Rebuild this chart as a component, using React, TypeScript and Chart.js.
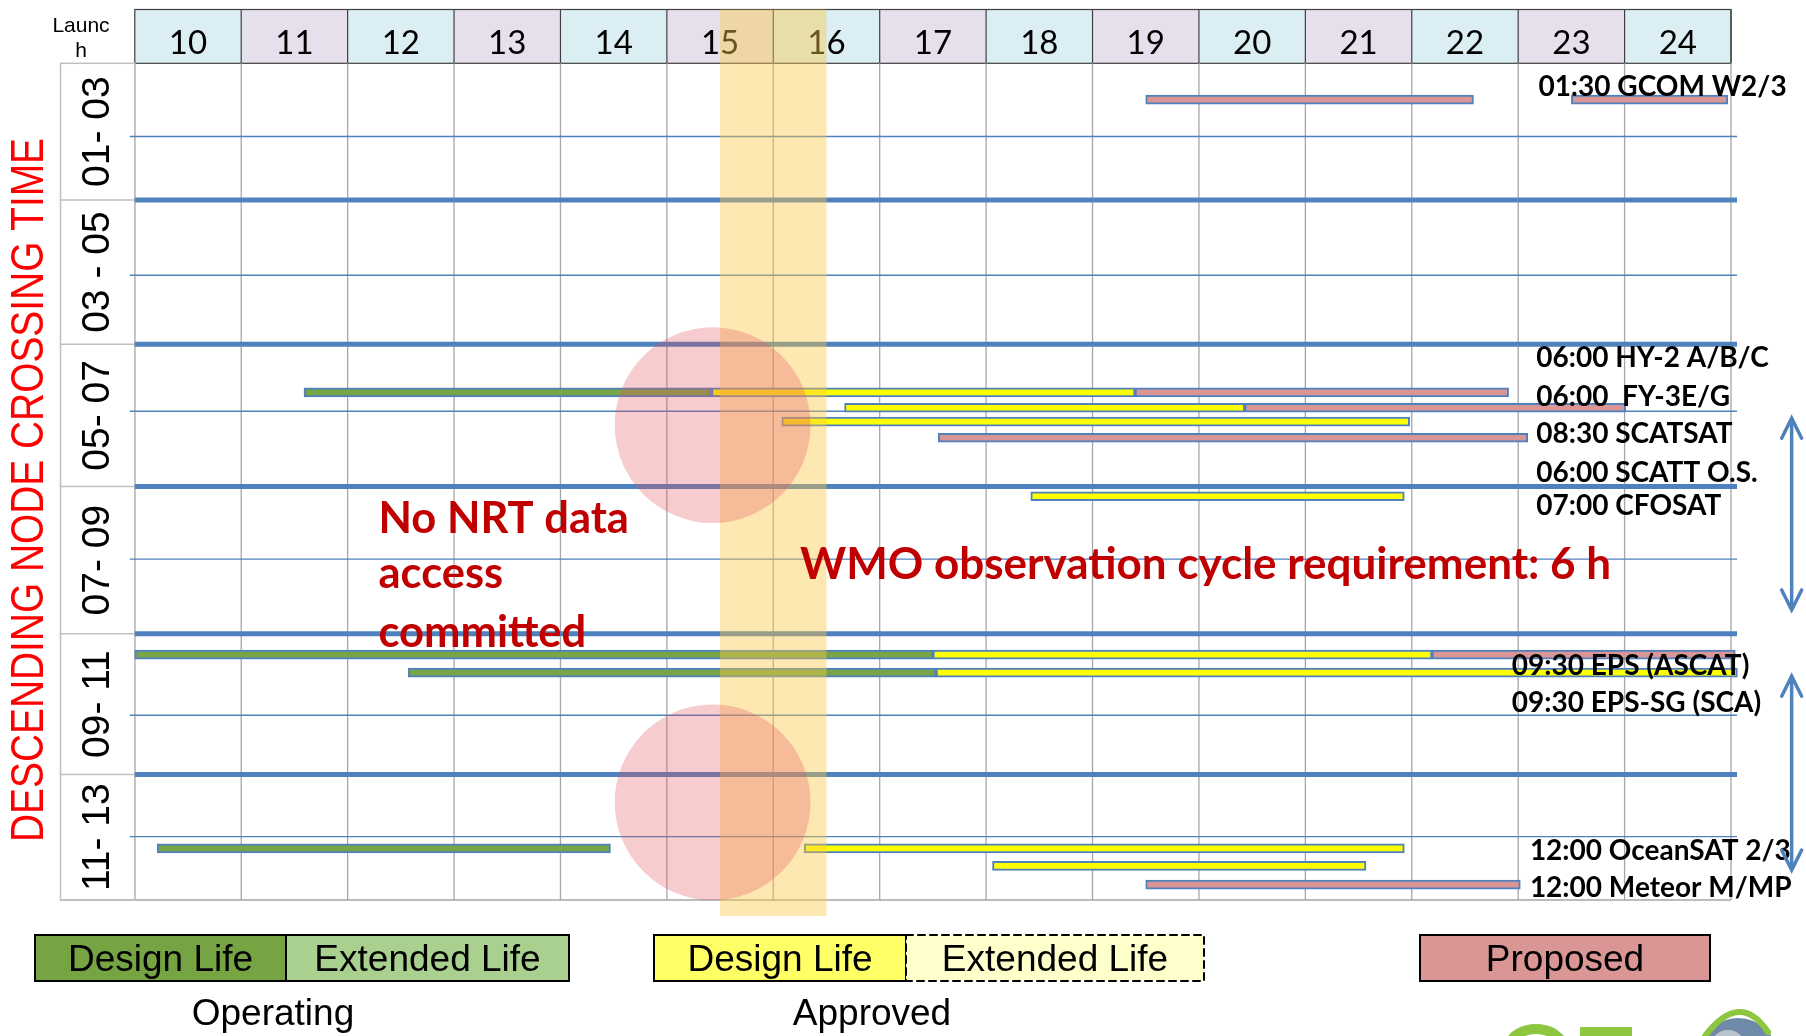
import React, { useEffect, useRef } from 'react';
import { Chart, registerables } from 'chart.js';

Chart.register(...registerables);

// ---------------- data ----------------
const launchYears = [10, 11, 12, 13, 14, 15, 16, 17, 18, 19, 20, 21, 22, 23, 24];
const timeGroups = ['01- 03', '03 - 05', '05- 07', '07- 09', '09- 11', '11- 13'];
const groupEdges = [1, 2.96, 5.03, 7.07, 9.18, 11.2, 13];
const halfLines = [2.05, 4.04, 5.99, 8.11, 10.35, 12.09];

// Operating – design life (green)
const operatingTimes = [5.72, 9.48, 9.74, 12.26];
const operatingStart = [11.09, 9.5, 12.07, 9.71];
const operatingEnd = [14.92, 17.0, 17.03, 13.97];

// Approved – design life (yellow)
const approvedTimes = [5.72, 5.94, 6.14, 7.21, 9.48, 9.74, 12.26, 12.51];
const approvedStart = [14.92, 16.17, 15.58, 17.92, 17.0, 17.03, 15.79, 17.56];
const approvedEnd = [18.9, 19.93, 21.48, 21.43, 21.69, 24.56, 21.43, 21.07];

// Proposed (pink)
const proposedTimes = [1.52, 1.52, 5.72, 5.94, 6.37, 9.48, 12.78];
const proposedStart = [19.0, 23.0, 18.9, 19.93, 17.05, 21.69, 19.0];
const proposedEnd = [22.08, 24.47, 22.41, 23.51, 22.59, 24.54, 22.52];

const satelliteLabels = [
  '01:30 GCOM W2/3',
  '06:00 HY-2 A/B/C',
  '06:00  FY-3E/G',
  '08:30 SCATSAT',
  '06:00 SCATT O.S.',
  '07:00 CFOSAT',
  '09:30 EPS (ASCAT)',
  '09:30 EPS-SG (SCA)',
  '12:00 OceanSAT 2/3',
  '12:00 Meteor M/MP',
];
const satelliteLabelTimes = [1.32, 5.21, 5.77, 6.3, 6.86, 7.33, 9.63, 10.16, 12.28, 12.81];
const satelliteLabelYears = [22.69, 22.67, 22.67, 22.67, 22.67, 22.67, 22.44, 22.44, 22.61, 22.61];

const yTitle = 'DESCENDING NODE CROSSING TIME';
const noNrtLines = ['No NRT data', 'access', 'committed'];
const wmoText = 'WMO observation cycle requirement: 6 h';
const legendLabels = ['Design Life', 'Extended Life', 'Design Life', 'Extended Life', 'Proposed'];
const legendGroups = ['Operating', 'Approved'];

// ---------------- styles ----------------
const BLUE = '#4F81BD';
const GREEN = '#77A548';
const YELLOW = '#FFFF00';
const PINK = '#D99694';
const DARKRED = '#C00000';
const ARIAL = '"Liberation Sans", Arial, sans-serif';
const LATO = 'Lato, "Open Sans", sans-serif';

const decorPlugin: any = {
  id: 'decor',
  beforeDatasetsDraw(chart: any) {
    const { ctx, chartArea: ca, scales } = chart;
    const px = (v: number) => scales.x.getPixelForValue(v);
    const py = (v: number) => scales.y.getPixelForValue(v);
    ctx.save();

    // header cells
    const hTop = 9.5;
    const hBot = ca.top;
    launchYears.forEach((yr, i) => {
      const l = px(yr - 0.5);
      const r = px(yr + 0.5);
      ctx.fillStyle = i % 2 === 0 ? '#DAEEF3' : '#E5E0EC';
      ctx.fillRect(l, hTop, r - l, hBot - hTop);
    });
    ctx.strokeStyle = '#404040';
    ctx.lineWidth = 1.2;
    ctx.strokeRect(px(9.5), hTop, px(24.5) - px(9.5), hBot - hTop);
    launchYears.forEach((yr) => {
      ctx.beginPath();
      ctx.moveTo(px(yr + 0.5), hTop);
      ctx.lineTo(px(yr + 0.5), hBot);
      ctx.stroke();
    });
    ctx.fillStyle = '#000';
    ctx.font = `33px ${LATO}`;
    ctx.textAlign = 'center';
    ctx.textBaseline = 'alphabetic';
    launchYears.forEach((yr) => ctx.fillText(String(yr), px(yr), 54));

    ctx.font = `21px ${ARIAL}`;
    ctx.fillText('Launc', 81, 31.5);
    ctx.fillText('h', 81, 56.5);

    // vertical grid
    ctx.strokeStyle = '#A6A6A6';
    ctx.lineWidth = 1.3;
    for (let v = 9.5; v <= 24.51; v += 1) {
      ctx.beginPath();
      ctx.moveTo(px(v), ca.top);
      ctx.lineTo(px(v), ca.bottom);
      ctx.stroke();
    }
    ctx.beginPath();
    ctx.moveTo(60.5, ca.bottom);
    ctx.lineTo(px(24.5), ca.bottom);
    ctx.stroke();

    // left label box
    ctx.strokeStyle = '#BFBFBF';
    ctx.lineWidth = 1.5;
    ctx.strokeRect(60.5, ca.top, ca.left - 60.5, ca.bottom - ca.top);
    groupEdges.slice(1, -1).forEach((g) => {
      ctx.beginPath();
      ctx.moveTo(60.5, py(g));
      ctx.lineTo(ca.left, py(g));
      ctx.stroke();
    });

    // thin lines
    ctx.strokeStyle = BLUE;
    ctx.lineWidth = 1.3;
    halfLines.forEach((h) => {
      ctx.beginPath();
      ctx.moveTo(ca.left - 5, py(h));
      ctx.lineTo(ca.right + 6, py(h));
      ctx.stroke();
    });
    // thick separators
    ctx.lineWidth = 5;
    groupEdges.slice(1, -1).forEach((g) => {
      ctx.beginPath();
      ctx.moveTo(ca.left, py(g));
      ctx.lineTo(ca.right + 6, py(g));
      ctx.stroke();
    });

    // group labels
    ctx.fillStyle = '#000';
    ctx.font = `39px ${ARIAL}`;
    ctx.textAlign = 'center';
    timeGroups.forEach((lab, i) => {
      const cy = (py(groupEdges[i]) + py(groupEdges[i + 1])) / 2;
      ctx.save();
      ctx.translate(109, cy);
      ctx.rotate(-Math.PI / 2);
      ctx.fillText(lab, 0, 0);
      ctx.restore();
    });

    // y title
    ctx.fillStyle = '#FF0000';
    ctx.font = `46px ${ARIAL}`;
    ctx.save();
    ctx.translate(42.5, 490);
    ctx.rotate(-Math.PI / 2);
    ctx.scale(0.845, 1);
    ctx.fillText(yTitle, 0, 0);
    ctx.restore();

    ctx.restore();
  },
  afterDatasetsDraw(chart: any) {
    const { ctx, scales } = chart;
    const px = (v: number) => scales.x.getPixelForValue(v);
    const py = (v: number) => scales.y.getPixelForValue(v);
    ctx.save();

    // yellow band (15 -> 16)
    ctx.fillStyle = 'rgba(252, 200, 70, 0.42)';
    ctx.fillRect(px(15), 9.5, px(16) - px(15), 916 - 9.5);

    // red circles
    const r = px(14.93 + 0.92) - px(14.93);
    [6.19, 11.6].forEach((h) => {
      ctx.beginPath();
      ctx.arc(px(14.93), py(h), r, 0, Math.PI * 2);
      ctx.fillStyle = 'rgba(225, 85, 95, 0.3)';
      ctx.fill();
    });

    // red annotations
    ctx.fillStyle = DARKRED;
    ctx.font = `bold 43.5px ${LATO}`;
    ctx.textAlign = 'left';
    ctx.textBaseline = 'alphabetic';
    const nrtTimes = [7.73, 8.52, 9.37];
    noNrtLines.forEach((t, i) => ctx.fillText(t, px(11.79), py(nrtTimes[i])));
    ctx.font = `bold 44px ${LATO}`;
    ctx.fillText(wmoText, px(15.75), py(8.4));

    // satellite labels
    ctx.fillStyle = '#000';
    ctx.font = `bold 28px ${LATO}`;
    satelliteLabels.forEach((t, i) => {
      ctx.fillText(t, px(satelliteLabelYears[i]), py(satelliteLabelTimes[i]) + 10);
    });

    // double arrows
    const arrow = (x: number, y1: number, y2: number) => {
      ctx.strokeStyle = BLUE;
      ctx.lineWidth = 3.5;
      ctx.lineCap = 'round';
      ctx.beginPath();
      ctx.moveTo(x, y1 + 2);
      ctx.lineTo(x, y2 - 2);
      ctx.stroke();
      ctx.beginPath();
      ctx.moveTo(x - 10, y1 + 20);
      ctx.lineTo(x, y1);
      ctx.lineTo(x + 10, y1 + 20);
      ctx.stroke();
      ctx.beginPath();
      ctx.moveTo(x - 10, y2 - 20);
      ctx.lineTo(x, y2);
      ctx.lineTo(x + 10, y2 - 20);
      ctx.stroke();
    };
    arrow(px(25.07), py(6.09), py(8.84));
    arrow(px(25.07), py(9.79), py(12.57));

    // legend
    const boxTop = 935;
    const boxH = 46;
    const boxes = [
      { l: 35, r: 286, fill: '#77A443', dash: false },
      { l: 286, r: 569, fill: '#A9D08E', dash: false },
      { l: 654, r: 906, fill: '#FFFF66', dash: false },
      { l: 906, r: 1204, fill: '#FFFFCC', dash: true },
      { l: 1420, r: 1710, fill: '#D99694', dash: false },
    ];
    ctx.font = `37px ${ARIAL}`;
    ctx.textAlign = 'center';
    boxes.forEach((b, i) => {
      ctx.fillStyle = b.fill;
      ctx.fillRect(b.l, boxTop, b.r - b.l, boxH);
      ctx.strokeStyle = '#000';
      ctx.lineWidth = 2;
      ctx.setLineDash(b.dash ? [7, 5] : []);
      ctx.strokeRect(b.l, boxTop, b.r - b.l, boxH);
      ctx.setLineDash([]);
      ctx.fillStyle = '#000';
      ctx.fillText(legendLabels[i], (b.l + b.r) / 2, boxTop + 36);
    });
    ctx.fillText(legendGroups[0], 273, 1025);
    ctx.fillText(legendGroups[1], 872, 1025);

    // logo fragment (bottom right)
    ctx.fillStyle = '#8DC63F';
    ctx.strokeStyle = '#8DC63F';
    ctx.lineWidth = 10;
    ctx.beginPath();
    ctx.ellipse(1536, 1050, 28, 21, 0, Math.PI * 1.05, Math.PI * 1.95);
    ctx.stroke();
    ctx.fillRect(1580, 1027, 52, 10);
    ctx.fillStyle = '#6F89A8';
    ctx.beginPath();
    ctx.arc(1738, 1058, 40, 0, Math.PI * 2);
    ctx.fill();
    ctx.fillStyle = '#B9C4CF';
    ctx.beginPath();
    ctx.arc(1728, 1048, 18, 0, Math.PI * 2);
    ctx.fill();
    ctx.strokeStyle = '#8DC63F';
    ctx.lineWidth = 6;
    ctx.beginPath();
    ctx.moveTo(1705, 1036);
    ctx.quadraticCurveTo(1740, 990, 1768, 1032);
    ctx.stroke();

    ctx.restore();
  },
};

const mk = (times: number[], starts: number[], ends: number[]) =>
  times.map((t, i) => ({ x: [starts[i], ends[i]], y: t }));

export default function App() {
  const ref = useRef<HTMLCanvasElement>(null);
  useEffect(() => {
    const canvas = ref.current!;
    const common = {
      borderColor: BLUE,
      borderWidth: 2,
      borderSkipped: false,
      barThickness: 9,
      grouped: false,
      clip: false,
    };
    const chart = new Chart(canvas, {
      type: 'bar',
      data: {
        datasets: [
          { label: 'Operating', data: mk(operatingTimes, operatingStart, operatingEnd), backgroundColor: GREEN, ...common } as any,
          { label: 'Approved', data: mk(approvedTimes, approvedStart, approvedEnd), backgroundColor: YELLOW, ...common } as any,
          { label: 'Proposed', data: mk(proposedTimes, proposedStart, proposedEnd), backgroundColor: PINK, ...common } as any,
        ],
      },
      options: {
        indexAxis: 'y',
        animation: false,
        responsive: false,
        devicePixelRatio: 1,
        layout: { padding: { left: 134.8, right: 1806 - 1731, top: 63.3, bottom: 1036 - 900 } },
        scales: {
          x: { type: 'linear', min: 9.5, max: 24.5, display: false, offset: false },
          y: { type: 'linear', min: 1, max: 13, reverse: true, display: false, offset: false },
        },
        plugins: { legend: { display: false }, tooltip: { enabled: false } },
      } as any,
      plugins: [decorPlugin],
    });
    return () => chart.destroy();
  }, []);
  return (
    <div style={{ position: 'absolute', left: 0, top: 0, width: 1806, height: 1036, background: '#fff' }}>
      <canvas ref={ref} width={1806} height={1036} style={{ display: 'block' }} />
    </div>
  );
}
